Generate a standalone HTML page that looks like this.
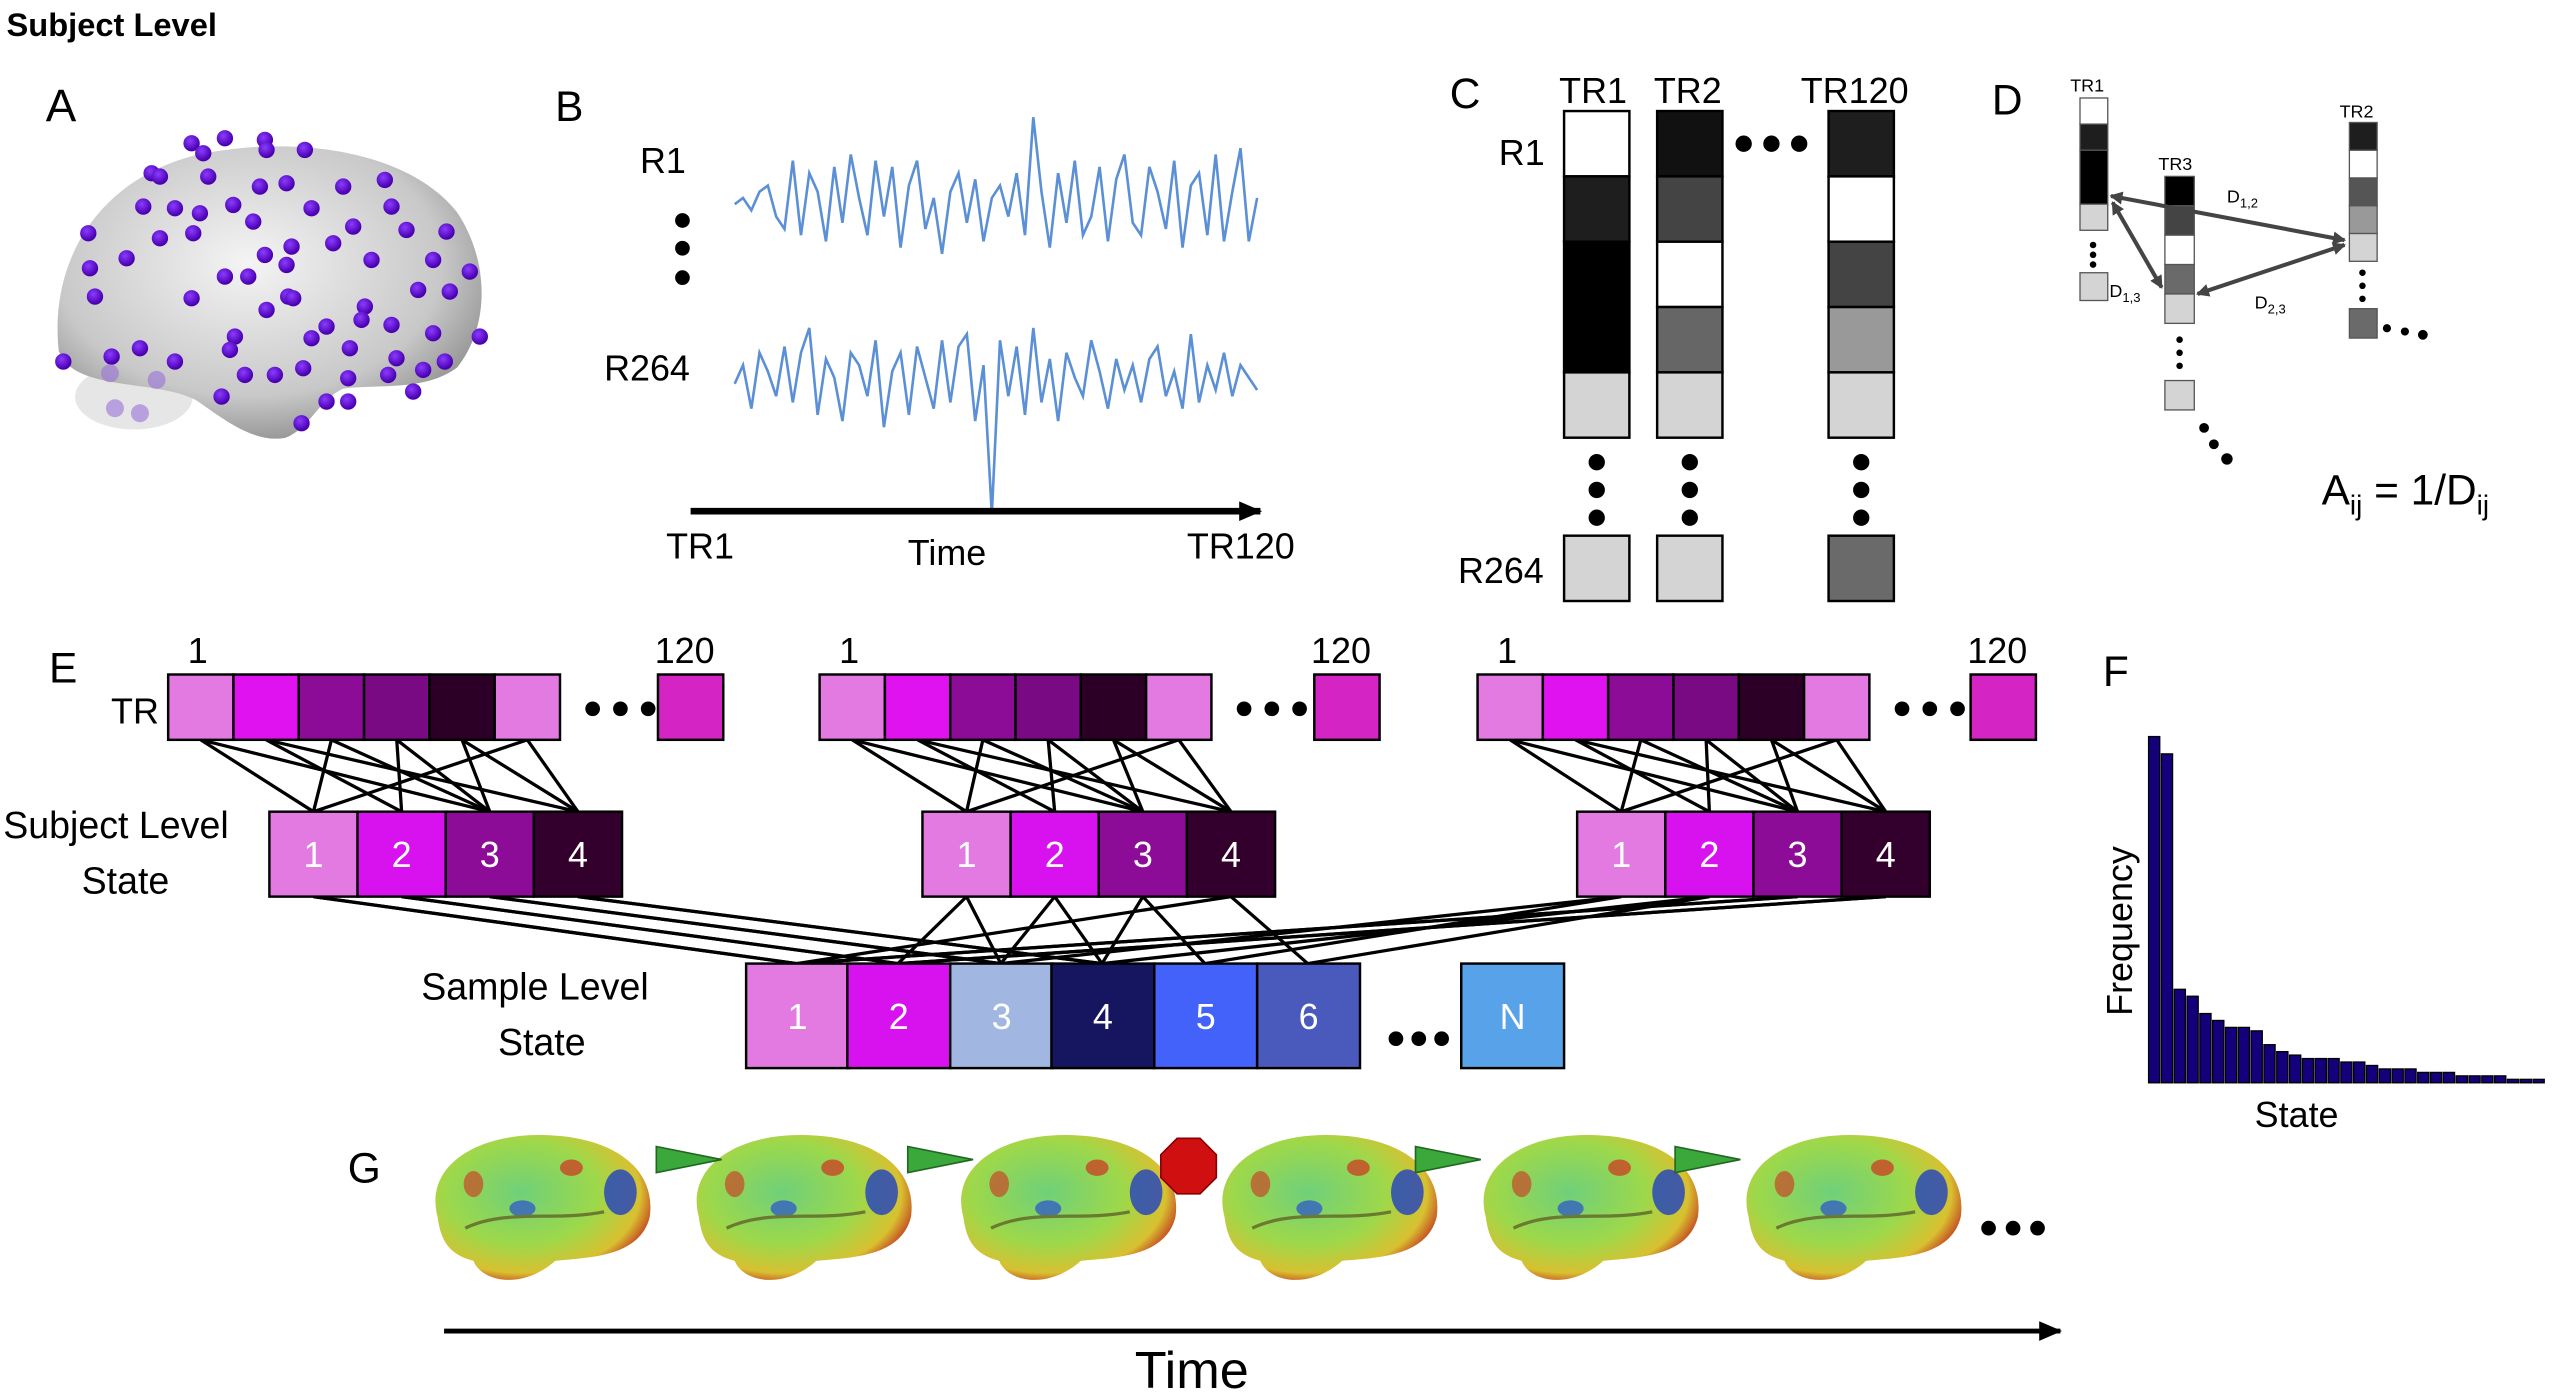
<!DOCTYPE html>
<html><head><meta charset="utf-8"><style>
html,body{margin:0;padding:0;background:#fff;}
svg{display:block;font-family:"Liberation Sans",sans-serif;}
</style></head><body>
<svg id="fig" width="2560" height="1398" viewBox="0 0 1568 856" preserveAspectRatio="none" xmlns="http://www.w3.org/2000/svg">
<defs>
<radialGradient id="gbrain" cx="45%" cy="40%" r="65%"><stop offset="0" stop-color="#f4f4f4"/><stop offset="0.7" stop-color="#c8c8c8"/><stop offset="1" stop-color="#8a8a8a"/></radialGradient>
<radialGradient id="gdot" cx="40%" cy="35%" r="60%"><stop offset="0" stop-color="#8a3cff"/><stop offset="1" stop-color="#4a00b0"/></radialGradient>
<radialGradient id="gmap" cx="40%" cy="40%" r="65%"><stop offset="0" stop-color="#6fd07a"/><stop offset="0.55" stop-color="#9ed84a"/><stop offset="0.85" stop-color="#d8c030"/><stop offset="1" stop-color="#c03020"/></radialGradient>
<marker id="ah" markerUnits="userSpaceOnUse" markerWidth="14" markerHeight="12" refX="13" refY="6" orient="auto"><path d="M0,0 L14,6 L0,12 z" fill="#000"/></marker>
<marker id="ag" markerUnits="userSpaceOnUse" markerWidth="8" markerHeight="8" refX="7" refY="4" orient="auto-start-reverse"><path d="M0,0 L8,4 L0,8 z" fill="#444"/></marker>
</defs>

<text x="4" y="22" font-size="20" font-weight="bold">Subject Level</text>

<!-- Panel A -->
<g>
<text x="28" y="74" font-size="28">A</text>
<ellipse cx="82" cy="243" rx="36" ry="20" fill="#e6e6e6"/>
<path d="M36,215 C30,160 60,110 120,95 C180,82 250,92 280,130 C300,160 300,200 280,225 C260,240 230,235 210,238 C195,245 190,262 175,268 C155,272 135,255 120,245 C95,232 45,240 36,215 Z" fill="url(#gbrain)"/>
<g id="adots"></g>
</g>

<!-- Panel B -->
<g>
<text x="340" y="74" font-size="26">B</text>
<text x="392" y="106" font-size="22">R1</text>
<circle cx="418" cy="135" r="4.5"/><circle cx="418" cy="152" r="4.5"/><circle cx="418" cy="170" r="4.5"/>
<text x="370" y="233" font-size="22">R264</text>
<g id="bseries"></g>
<line x1="423" y1="313" x2="772" y2="313" stroke="#000" stroke-width="4" marker-end="url(#ah)"/>
<text x="408" y="342" font-size="22">TR1</text>
<text x="556" y="346" font-size="22">Time</text>
<text x="727" y="342" font-size="22">TR120</text>
</g>

<!-- Panel C -->
<g>
<text x="888" y="66" font-size="26">C</text>
<text x="955" y="63" font-size="22">TR1</text>
<text x="1013" y="63" font-size="22">TR2</text>
<text x="1103" y="63" font-size="22">TR120</text>
<text x="918" y="101" font-size="22">R1</text>
<text x="893" y="357" font-size="22">R264</text>
<g stroke="#000" stroke-width="1.5">
<rect x="958" y="68" width="40" height="40" fill="#fff"/><rect x="958" y="108" width="40" height="40" fill="#1e1e1e"/><rect x="958" y="148" width="40" height="80" fill="#000"/><rect x="958" y="228" width="40" height="40" fill="#d4d4d4"/>
<rect x="1015" y="68" width="40" height="40" fill="#111"/><rect x="1015" y="108" width="40" height="40" fill="#444"/><rect x="1015" y="148" width="40" height="40" fill="#fff"/><rect x="1015" y="188" width="40" height="40" fill="#666"/><rect x="1015" y="228" width="40" height="40" fill="#d4d4d4"/>
<rect x="1120" y="68" width="40" height="40" fill="#1e1e1e"/><rect x="1120" y="108" width="40" height="40" fill="#fff"/><rect x="1120" y="148" width="40" height="40" fill="#444"/><rect x="1120" y="188" width="40" height="40" fill="#999"/><rect x="1120" y="228" width="40" height="40" fill="#d4d4d4"/>
<rect x="958" y="328" width="40" height="40" fill="#d4d4d4"/><rect x="1015" y="328" width="40" height="40" fill="#d4d4d4"/><rect x="1120" y="328" width="40" height="40" fill="#6a6a6a"/>
</g>
<g fill="#000">
<circle cx="978" cy="283" r="5"/><circle cx="978" cy="300" r="5"/><circle cx="978" cy="317" r="5"/>
<circle cx="1035" cy="283" r="5"/><circle cx="1035" cy="300" r="5"/><circle cx="1035" cy="317" r="5"/>
<circle cx="1140" cy="283" r="5"/><circle cx="1140" cy="300" r="5"/><circle cx="1140" cy="317" r="5"/>
<circle cx="1068" cy="88" r="5"/><circle cx="1085" cy="88" r="5"/><circle cx="1102" cy="88" r="5"/>
</g>
</g>

<!-- Panel D -->
<g>
<text x="1220" y="70" font-size="26">D</text>
<text x="1268" y="56" font-size="11">TR1</text>
<text x="1322" y="104" font-size="11">TR3</text>
<text x="1433" y="72" font-size="11">TR2</text>
<g stroke="#555" stroke-width="0.8">
<rect x="1274" y="60" width="17" height="16" fill="#fff"/><rect x="1274" y="76" width="17" height="16" fill="#1e1e1e"/><rect x="1274" y="92" width="17" height="33" fill="#000"/><rect x="1274" y="125" width="17" height="16" fill="#d4d4d4"/><rect x="1274" y="167" width="17" height="17" fill="#d4d4d4"/>
<rect x="1326" y="108" width="18" height="18" fill="#000"/><rect x="1326" y="126" width="18" height="18" fill="#444"/><rect x="1326" y="144" width="18" height="18" fill="#fff"/><rect x="1326" y="162" width="18" height="18" fill="#6a6a6a"/><rect x="1326" y="180" width="18" height="18" fill="#d4d4d4"/><rect x="1326" y="233" width="18" height="18" fill="#d4d4d4"/>
<rect x="1439" y="75" width="17" height="17" fill="#1e1e1e"/><rect x="1439" y="92" width="17" height="17" fill="#fff"/><rect x="1439" y="109" width="17" height="17" fill="#555"/><rect x="1439" y="126" width="17" height="17" fill="#999"/><rect x="1439" y="143" width="17" height="17" fill="#d4d4d4"/><rect x="1439" y="189" width="17" height="18" fill="#6a6a6a"/>
</g>
<g fill="#000"><circle cx="1282" cy="150" r="2"/><circle cx="1282" cy="156" r="2"/><circle cx="1282" cy="162" r="2"/>
<circle cx="1335" cy="208" r="2"/><circle cx="1335" cy="216" r="2"/><circle cx="1335" cy="224" r="2"/>
<circle cx="1447" cy="167" r="2"/><circle cx="1447" cy="175" r="2"/><circle cx="1447" cy="183" r="2"/>
<circle cx="1462" cy="201" r="2.5"/><circle cx="1473" cy="203" r="2.5"/><circle cx="1484" cy="205" r="3"/>
<circle cx="1350" cy="262" r="3"/><circle cx="1356" cy="272" r="3"/><circle cx="1364" cy="281" r="3.5"/></g>
<g stroke="#444" stroke-width="2.5" fill="none">
<line x1="1293" y1="120" x2="1436" y2="147" marker-start="url(#ag)" marker-end="url(#ag)"/>
<line x1="1294" y1="124" x2="1324" y2="176" marker-start="url(#ag)" marker-end="url(#ag)"/>
<line x1="1346" y1="180" x2="1436" y2="150" marker-start="url(#ag)" marker-end="url(#ag)"/>
</g>
<text x="1364" y="124" font-size="11">D<tspan font-size="8" dy="3">1,2</tspan></text>
<text x="1292" y="182" font-size="11">D<tspan font-size="8" dy="3">1,3</tspan></text>
<text x="1381" y="189" font-size="11">D<tspan font-size="8" dy="3">2,3</tspan></text>
<text x="1422" y="309" font-size="26">A<tspan font-size="17" dy="6">ij</tspan><tspan dy="-6"> = 1/D</tspan><tspan font-size="17" dy="6">ij</tspan></text>
</g>

<!-- Panel E -->
<g>
<text x="30" y="418" font-size="26">E</text>
<text x="68" y="443" font-size="22">TR</text>
<text x="2" y="513" font-size="23">Subject Level</text>
<text x="50" y="547" font-size="23">State</text>
<text x="258" y="612" font-size="23">Sample Level</text>
<text x="305" y="646" font-size="23">State</text>
<g id="elines" stroke="#000" stroke-width="2"></g>
<g id="eboxes"></g>
</g>

<!-- Panel F -->
<g>
<text x="1288" y="420" font-size="26">F</text>
<text transform="translate(1306,622) rotate(-90)" font-size="22">Frequency</text>
<text x="1381" y="690" font-size="22">State</text>
<g id="fbars"></g>
</g>

<!-- Panel G -->
<g>
<text x="213" y="724" font-size="26">G</text>
<g id="gbrains"></g>
<g fill="#3aa83a" stroke="#226622" stroke-width="1">
<polygon points="402,702 442,710 402,718"/><polygon points="556,702 596,710 556,718"/><polygon points="867,702 907,710 867,718"/><polygon points="1026,702 1066,710 1026,718"/>
</g>
<polygon points="721,697 735,697 745,707 745,721 735,731 721,731 711,721 711,707" fill="#d01010" stroke="#800"/>
<g fill="#000"><circle cx="1218" cy="752" r="4.5"/><circle cx="1233" cy="752" r="4.5"/><circle cx="1248" cy="752" r="4.5"/></g>
<line x1="272" y1="815" x2="1262" y2="815" stroke="#000" stroke-width="3" marker-end="url(#ah)"/>
<text x="695" y="850" font-size="32">Time</text>
</g>
</svg>
<script>
const NS="http://www.w3.org/2000/svg";
// Panel B time series values (normalized -1..1)
const seriesR1=[0,0.1,-0.1,0.2,0.3,-0.2,-0.4,0.7,-0.5,0.5,0.2,-0.6,0.6,-0.3,0.8,0.1,-0.5,0.7,-0.2,0.6,-0.7,0.3,0.7,-0.4,0.1,-0.8,0.2,0.5,-0.3,0.4,-0.6,0.1,0.3,-0.2,0.5,-0.5,1.4,0.2,-0.7,0.5,-0.3,0.7,-0.5,-0.2,0.6,-0.6,0.4,0.8,-0.3,-0.5,0.6,0.2,-0.4,0.7,-0.7,0.3,0.5,-0.5,0.8,-0.6,0.2,0.9,-0.6,0.1];
const seriesR264=[0,0.3,-0.4,0.5,0.2,-0.2,0.6,-0.3,0.5,0.9,-0.5,0.4,0.1,-0.6,0.5,0.3,-0.2,0.7,-0.7,0.2,0.5,-0.5,0.6,0.1,-0.4,0.7,-0.3,0.6,0.8,-0.6,0.3,-2.1,0.7,-0.2,0.6,-0.5,0.9,-0.3,0.4,-0.6,0.5,0.1,-0.2,0.7,0.2,-0.4,0.4,-0.1,0.3,-0.3,0.4,0.6,-0.2,0.2,-0.4,0.8,-0.3,0.3,-0.1,0.5,-0.2,0.3,0.1,-0.1];
// Panel F frequencies (relative)
const freqValues=[100,95,27,25,20,18,16,16,15,11,9,8,7,7,7,6,6,5,4,4,4,3,3,3,2,2,2,2,1,1,1];
// Panel A ROI dot positions (illustration, reference zoom coords)
const roiDots=[[575,250],[675,235],[795,240],[800,270],[915,270],[610,280],[455,340],[480,350],[625,350],[860,370],[780,380],[1030,380],[1155,360],[430,440],[525,445],[700,435],[600,460],[935,445],[1175,440],[265,520],[480,535],[580,520],[760,485],[1060,500],[1220,510],[1340,515],[1000,550],[380,595],[795,585],[860,615],[875,560],[1115,600],[1300,600],[1410,635],[270,625],[675,650],[745,650],[1255,690],[1350,695],[285,710],[575,715],[865,710],[880,715],[800,750],[1095,740],[980,800],[1085,780],[1175,795],[1300,820],[1440,830],[935,835],[1050,865],[705,830],[690,870],[420,865],[190,905],[335,890],[525,905],[1190,895],[1335,905],[1270,930],[1165,945],[910,925],[825,945],[735,945],[1045,955],[665,1010],[980,1025],[1045,1025],[905,1090],[1240,995]];
const faintDots=[[345,1045],[420,1060],[470,960],[330,940]];
function el(tag,attrs,parent){const e=document.createElementNS(NS,tag);for(const k in attrs)e.setAttribute(k,attrs[k]);parent.appendChild(e);return e;}
const ad=document.getElementById('adots');
roiDots.forEach(d=>{const c=el('circle',{cx:d[0]/4.9,cy:d[1]/4.9+36.7,r:5,fill:'url(#gdot)'},ad);

});
faintDots.forEach(d=>{const c=el('circle',{cx:d[0]/4.9,cy:d[1]/4.9+36.7,r:5.5,fill:'#9a70d8',opacity:0.6},ad);

});
// B series
const bs=document.getElementById('bseries');
function xB(i,n){return 450+i*(320/(n-1));}
function yB(v,c){return c-v*38;}
[[seriesR1,125,'series-r1'],[seriesR264,235,'series-r264']].forEach(s=>{
const pts=s[0].map((v,i)=>xB(i,s[0].length).toFixed(1)+','+yB(v,s[1]).toFixed(1)).join(' ');
const p=el('polyline',{points:pts,fill:'none',stroke:'#5b8fd6','stroke-width':1.6},bs);

});
// E boxes
const trColors=['#e27ae2','#e012f0','#8c0c98','#7a0a84','#2c0026','#e27ae2'];
const subjColors=['#e27ae2','#d812ee','#8c0c98','#33002e'];
const sampleLabels=['1','2','3','4','5','6','N'];
const sampleColors=['#e27ae2','#d812ee','#a2b6e2','#161660','#4262fa','#4a5abc','#58a2ea'];
const eb=document.getElementById('eboxes'), elns=document.getElementById('elines');
const trGroups=[103,502,905], tr120=[403,805,1207], subjX=[165,565,966];
function box(x,y,w,h,fill,label,name){const r=el('rect',{x:x,y:y,width:w,height:h,fill:fill,stroke:'#000','stroke-width':1.5},eb);


if(label){const t=el('text',{x:x+w/2,y:y+h/2+8,'font-size':22,fill:'#fff','text-anchor':'middle'},eb);t.textContent=label;}}
const trMap=[0,1,2,2,3,0];
trGroups.forEach((gx,g)=>{
 for(let k=0;k<6;k++){box(gx+k*40,413,40,40,trColors[k],'', 'tr-box');
  const sx=subjX[g]+trMap[k]*54+27;
  el('line',{x1:gx+k*40+20,y1:453,x2:sx,y2:497},elns);
  el('line',{x1:gx+k*40+20,y1:453,x2:subjX[g]+((k+2)%4)*54+27,y2:497},elns);}
 box(tr120[g],413,40,40,'#d424c4','','tr120-box');
 [0,1,2].forEach(d=>el('circle',{cx:gx+260+d*17,cy:434,r:4.5},eb));
 const l1=el('text',{x:gx+12,y:406,'font-size':22},eb);l1.textContent='1';
 const l2=el('text',{x:tr120[g]-2,y:406,'font-size':22},eb);l2.textContent='120';
 for(let k=0;k<4;k++){box(subjX[g]+k*54,497,54,52,subjColors[k],String(k+1),'subject-state-box');
  const tx=[457,519,582,644,707,770][(k+g*2)%6]+31;
  el('line',{x1:subjX[g]+k*54+27,y1:549,x2:tx,y2:590},elns);
  el('line',{x1:subjX[g]+k*54+27,y1:549,x2:[488,550,613,675][(k+g)%4],y2:590},elns);}
});
const sX=[457,519,582,644,707,770,895];
sampleLabels.forEach((s,i)=>box(sX[i],590,63,64,sampleColors[i],s,'sample-state-box'));
[0,1,2].forEach(d=>el('circle',{cx:855+d*14,cy:636,r:4.5},eb));
// F bars
const fb=document.getElementById('fbars');
const fx0=1316,fw=7.85,fbase=663,fh=212;
function yF(v){return fbase-v/100*fh;}
freqValues.forEach((v,i)=>{const r=el('rect',{x:fx0+i*fw,y:yF(v),width:fw-1,height:fbase-yF(v),fill:'#14007a',stroke:'#000','stroke-width':0.8},fb);

});
// G brains
const gb=document.getElementById('gbrains');
[330,490,652,812,972,1133].forEach((cx,i)=>{
 const g=el('g',{},gb);
 
 
 el('path',{d:`M${cx-62},${745} C${cx-70},${715} ${cx-40},${695} ${cx},${695} C${cx+45},${695} ${cx+72},${715} ${cx+68},${745} C${cx+62},${770} ${cx+30},${770} ${cx+10},${772} C${cx-10},${790} ${cx-35},${785} ${cx-40},${772} C${cx-55},${768} ${cx-60},${760} ${cx-62},${745} Z`,fill:'url(#gmap)'},g);
 el('ellipse',{cx:cx+50,cy:730,rx:10,ry:14,fill:'#2040c0',opacity:0.8},g);
 el('ellipse',{cx:cx-10,cy:740,rx:8,ry:5,fill:'#2a50d0',opacity:0.7},g);
 el('ellipse',{cx:cx+20,cy:715,rx:7,ry:5,fill:'#d03020',opacity:0.7},g);
 el('ellipse',{cx:cx-40,cy:725,rx:6,ry:8,fill:'#d03020',opacity:0.6},g);
 el('path',{d:`M${cx-45},${752} C${cx-20},${740} ${cx+10},${748} ${cx+40},${742}`,fill:'none',stroke:'#6a7a30','stroke-width':2},g);
});
</script>
</body></html>
